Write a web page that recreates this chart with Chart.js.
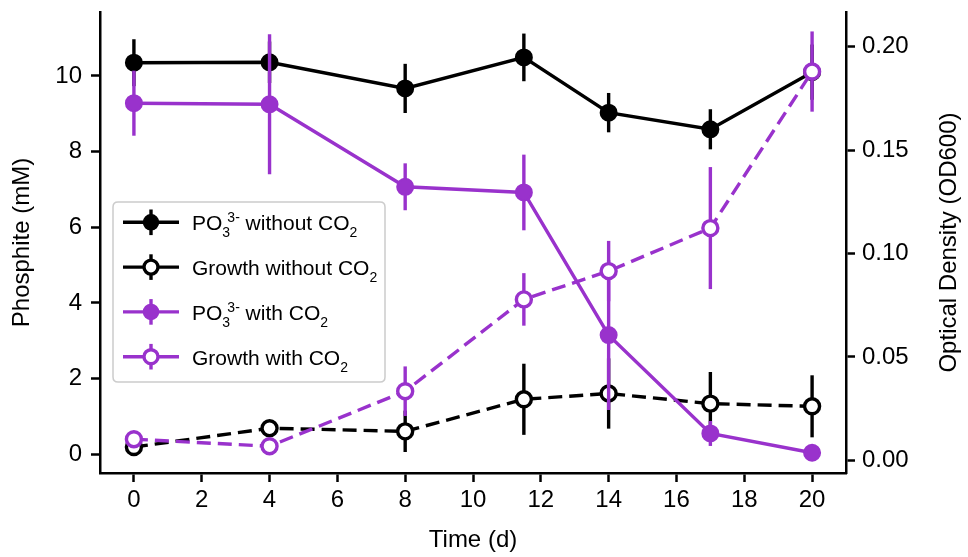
<!DOCTYPE html>
<html><head><meta charset="utf-8">
<script src="https://cdn.jsdelivr.net/npm/chart.js@4.4.1/dist/chart.umd.min.js"></script>
<style>html,body{margin:0;padding:0;background:#fff;}#wrap{width:968px;height:557px;position:relative;}</style>
</head><body><div id="wrap"><canvas id="c" width="968" height="557"></canvas></div>
<script>
// ---- data ----
const days = [0, 4, 8, 11.5, 14, 17, 20];
const phosphiteNoCO2 = [10.35, 10.36, 9.67, 10.49, 9.03, 8.59, 10.10];
const phosphiteNoCO2Err = [0.62, 0.55, 0.65, 0.63, 0.52, 0.53, 0.73];
const phosphiteCO2 = [9.28, 9.25, 7.07, 6.92, 3.15, 0.55, 0.04];
const phosphiteCO2Err = [0.86, 1.85, 0.62, 1.00, 1.98, 0.33, 0.05];
const growthNoCO2 = [0.0064, 0.0155, 0.0140, 0.0295, 0.0323, 0.0274, 0.0261];
const growthNoCO2Err = [0.002, 0.003, 0.010, 0.0172, 0.0170, 0.0153, 0.0150];
const growthCO2 = [0.0102, 0.0068, 0.0334, 0.0778, 0.0915, 0.1123, 0.1880];
const growthCO2Err = [0.002, 0.002, 0.012, 0.0127, 0.0146, 0.0295, 0.0194];
const xTicks = [0, 2, 4, 6, 8, 10, 12, 14, 16, 18, 20];
const yLeftTicks = [0, 2, 4, 6, 8, 10];
const yRightTicks = [0, 0.05, 0.10, 0.15, 0.20];
const seriesNames = ['PO₃³⁻ without CO₂', 'Growth without CO₂', 'PO₃³⁻ with CO₂', 'Growth with CO₂'];
// rich-text parts for the legend (text, kind)
const seriesNameParts = [
  [['PO', ''], ['3', 'sub'], ['3-', 'sup'], [' without CO', ''], ['2', 'sub']],
  [['Growth without CO', ''], ['2', 'sub']],
  [['PO', ''], ['3', 'sub'], ['3-', 'sup'], [' with CO', ''], ['2', 'sub']],
  [['Growth with CO', ''], ['2', 'sub']]
];
const xTitle = 'Time (d)';
const yLeftTitle = 'Phosphite (mM)';
const yRightTitle = 'Optical Density (OD600)';

const PURPLE = '#9932CC';
const FONT = "'Liberation Sans', Arial, Helvetica, sans-serif";
const LW = 3.4;

const pts = (vals) => days.map((d, i) => ({x: d, y: vals[i]}));

function mkDataset(i, vals, errs, axis, color, open, dashed, order) {
  return {
    label: seriesNames[i], data: pts(vals), errors: errs, yAxisID: axis,
    borderColor: color, backgroundColor: color, borderWidth: LW,
    borderDash: dashed ? [14, 7] : [], fill: false, tension: 0,
    pointRadius: open ? 7.5 : 8, pointHoverRadius: 8, pointBorderWidth: open ? 3.4 : 2,
    pointBackgroundColor: open ? '#ffffff' : color, pointBorderColor: color,
    openMarker: open, order: order
  };
}

const errorBarPlugin = {
  id: 'errbars',
  beforeDatasetDraw(chart, args) {
    const ds = chart.data.datasets[args.index];
    if (!ds.errors) return;
    const xs = chart.scales.x, ys = chart.scales[ds.yAxisID];
    const ctx = chart.ctx;
    ctx.save();
    ctx.strokeStyle = ds.borderColor; ctx.lineWidth = LW; ctx.setLineDash([]); ctx.lineCap = 'butt';
    ds.data.forEach((p, i) => {
      const e = ds.errors[i];
      const px = xs.getPixelForValue(p.x);
      ctx.beginPath();
      ctx.moveTo(px, ys.getPixelForValue(p.y - e));
      ctx.lineTo(px, ys.getPixelForValue(p.y + e));
      ctx.stroke();
    });
    ctx.restore();
  }
};

const titlesAndLegendPlugin = {
  id: 'customLegend',
  afterDraw(chart) {
    const ctx = chart.ctx;
    const ca = chart.chartArea;
    ctx.save();
    // right axis title, reading bottom-to-top
    ctx.font = '24px ' + FONT; ctx.fillStyle = '#000';
    ctx.textAlign = 'center'; ctx.textBaseline = 'middle';
    ctx.translate(949, (ca.top + ca.bottom) / 2);
    ctx.rotate(-Math.PI / 2);
    ctx.fillText(yRightTitle, 0, 0);
    ctx.restore();

    // legend box
    ctx.save();
    const bx = 113, by = 202, bw = 272, bh = 180, r = 5;
    ctx.beginPath();
    ctx.moveTo(bx + r, by); ctx.lineTo(bx + bw - r, by); ctx.quadraticCurveTo(bx + bw, by, bx + bw, by + r);
    ctx.lineTo(bx + bw, by + bh - r); ctx.quadraticCurveTo(bx + bw, by + bh, bx + bw - r, by + bh);
    ctx.lineTo(bx + r, by + bh); ctx.quadraticCurveTo(bx, by + bh, bx, by + bh - r);
    ctx.lineTo(bx, by + r); ctx.quadraticCurveTo(bx, by, bx + r, by);
    ctx.closePath();
    ctx.fillStyle = 'rgba(255,255,255,0.8)'; ctx.fill();
    ctx.strokeStyle = '#cccccc'; ctx.lineWidth = 1.5; ctx.stroke();

    chart.data.datasets.forEach((ds, i) => {
      const y = 222.3 + i * 44.8;
      ctx.setLineDash([]);
      ctx.strokeStyle = ds.borderColor; ctx.lineWidth = LW; ctx.lineCap = 'butt';
      ctx.beginPath(); ctx.moveTo(123, y); ctx.lineTo(179, y); ctx.stroke();
      ctx.beginPath(); ctx.moveTo(151, y - 12.8); ctx.lineTo(151, y + 12.8); ctx.stroke();
      ctx.beginPath(); ctx.arc(151, y, ds.openMarker ? 7 : 7.5, 0, Math.PI * 2);
      ctx.fillStyle = ds.openMarker ? '#fff' : ds.borderColor; ctx.fill();
      ctx.lineWidth = ds.openMarker ? LW : 1.5; ctx.stroke();
      // text
      let x = 192;
      const base = y + 7.8;
      ctx.fillStyle = '#000'; ctx.textAlign = 'left'; ctx.textBaseline = 'alphabetic';
      let subStart = null;
      seriesNameParts[i].forEach(([t, kind]) => {
        if (kind === '') {
          ctx.font = '21px ' + FONT;
          ctx.fillText(t, x, base);
          x += ctx.measureText(t).width;
          subStart = null;
        } else if (kind === 'sub') {
          ctx.font = '14px ' + FONT;
          ctx.fillText(t, x, base + 7);
          subStart = x;
          x += ctx.measureText(t).width;
        } else {
          ctx.font = '14px ' + FONT;
          const sx = (subStart !== null ? subStart : x) + 5;
          ctx.fillText(t, sx, base - 8);
          x = Math.max(x, sx + ctx.measureText(t).width);
        }
      });
    });
    ctx.restore();
  }
};

function axisCommon() {
  return {
    border: {display: true, color: '#000', width: 2.5},
    grid: {display: true, drawOnChartArea: false, drawTicks: true, tickLength: 9, tickWidth: 2.5, tickColor: '#000'},
  };
}

new Chart(document.getElementById('c'), {
  type: 'line',
  data: {
    datasets: [
      mkDataset(0, phosphiteNoCO2, phosphiteNoCO2Err, 'y', '#000000', false, false, 4),
      mkDataset(1, growthNoCO2, growthNoCO2Err, 'y2', '#000000', true, true, 3),
      mkDataset(2, phosphiteCO2, phosphiteCO2Err, 'y', PURPLE, false, false, 2),
      mkDataset(3, growthCO2, growthCO2Err, 'y2', PURPLE, true, true, 1)
    ]
  },
  options: {
    responsive: false, devicePixelRatio: 1, animation: false,
    layout: {padding: {top: 12, left: 0, right: 0, bottom: 0}},
    plugins: {legend: {display: false}, tooltip: {enabled: false}},
    scales: {
      x: Object.assign(axisCommon(), {
        type: 'linear', position: 'bottom', min: -1, max: 21,
        ticks: {color: '#000', font: {family: FONT, size: 24}, padding: 4, autoSkip: false, maxRotation: 0, includeBounds: false},
        title: {display: true, text: xTitle, color: '#000', font: {family: FONT, size: 24, lineHeight: 1.2}, padding: {top: 0, bottom: 2}},
        afterBuildTicks: (s) => { s.ticks = xTicks.map(v => ({value: v})); },
        afterFit: (s) => { s.height = 84; s.paddingLeft = 0; s.paddingRight = 0; }
      }),
      y: Object.assign(axisCommon(), {
        type: 'linear', position: 'left', min: -0.495, max: 11.69,
        ticks: {color: '#000', font: {family: FONT, size: 24}, padding: 9, includeBounds: false},
        title: {display: true, text: yLeftTitle, color: '#000', font: {family: FONT, size: 24, lineHeight: 1.2}, padding: {top: 8, bottom: 0}},
        afterBuildTicks: (s) => { s.ticks = yLeftTicks.map(v => ({value: v})); },
        afterFit: (s) => { s.width = 100; s.paddingTop = 0; s.paddingBottom = 0; }
      }),
      y2: Object.assign(axisCommon(), {
        type: 'linear', position: 'right', min: -0.00615, max: 0.2168,
        ticks: {color: '#000', font: {family: FONT, size: 24}, padding: 7, includeBounds: false,
          callback: (v) => Number(v).toFixed(2)},
        title: {display: false, text: yRightTitle},
        afterBuildTicks: (s) => { s.ticks = yRightTicks.map(v => ({value: v})); },
        afterFit: (s) => { s.width = 122; s.paddingTop = 0; s.paddingBottom = 0; }
      })
    }
  },
  plugins: [errorBarPlugin, titlesAndLegendPlugin]
});
</script>
</body></html>
